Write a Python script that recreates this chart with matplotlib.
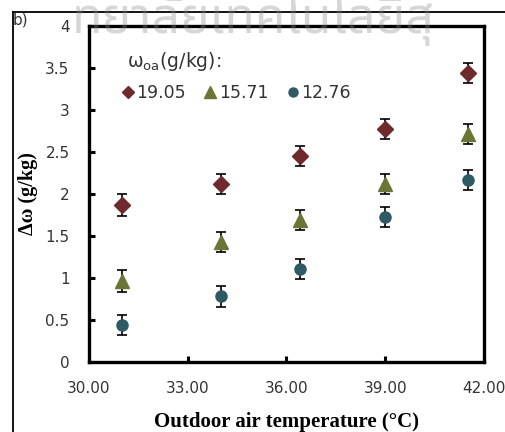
import matplotlib
matplotlib.use("Agg")
import matplotlib.pyplot as plt
from matplotlib.lines import Line2D

# Outdoor air temperature (°C) for each test point
temperature = [31.0, 34.0, 36.4, 39.0, 41.5]

# Moisture removal Δω (g/kg) for each outdoor humidity ratio
dw_1905 = [1.87, 2.12, 2.45, 2.77, 3.44]
dw_1571 = [0.96, 1.43, 1.69, 2.12, 2.71]
dw_1276 = [0.44, 0.78, 1.11, 1.73, 2.17]

# Error-bar half widths (g/kg)
err_1905 = [0.13, 0.12, 0.12, 0.12, 0.12]
err_1571 = [0.13, 0.12, 0.12, 0.12, 0.12]
err_1276 = [0.12, 0.12, 0.12, 0.12, 0.12]

series_labels = ["19.05", "15.71", "12.76"]
x_ticks = [30, 33, 36, 39, 42]
x_ticklabels = ["30.00", "33.00", "36.00", "39.00", "42.00"]
y_ticks = [0, 0.5, 1, 1.5, 2, 2.5, 3, 3.5, 4]
y_ticklabels = ["0", "0.5", "1", "1.5", "2", "2.5", "3", "3.5", "4"]

colors = ["#6E2A2C", "#6B7535", "#2E5A64"]
markers = ["D", "^", "o"]
sizes = [8, 9.5, 8]

fig = plt.figure(figsize=(5.06, 4.32), dpi=100)
ax = fig.add_axes([89 / 506, 1 - 362 / 432, (484 - 89) / 506, (362 - 26) / 432])

for y, e, c, m, s in zip([dw_1905, dw_1571, dw_1276],
                         [err_1905, err_1571, err_1276],
                         colors, markers, sizes):
    ax.errorbar(temperature, y, yerr=e, fmt=m, color=c, ms=s, mec=c,
                ecolor="black", elinewidth=1.2, capsize=3.5, capthick=1.2,
                zorder=3)

ax.set_xlim(30, 42)
ax.set_ylim(0, 4)
ax.set_xticks(x_ticks)
ax.set_xticklabels(x_ticklabels)
ax.set_yticks(y_ticks)
ax.set_yticklabels(y_ticklabels)

for sp in ax.spines.values():
    sp.set_linewidth(2.4)
ax.tick_params(direction="in", length=4, width=2.2, labelsize=11,
               labelcolor="#333333")
ax.tick_params(axis="x", pad=14)
ax.tick_params(axis="y", pad=14)

ax.set_xlabel("Outdoor air temperature (°C)", family="Liberation Serif",
              fontweight="bold", fontsize=15, labelpad=11)
ax.set_ylabel("Δω (g/kg)", family="Liberation Serif", fontweight="bold",
              fontsize=14.5, labelpad=5)

# Legend: title line plus one row of entries
ax.text(0.097, 0.893, "ω$_{\\mathrm{oa}}$(g/kg):", transform=ax.transAxes,
        fontsize=13.5, color="#333333", ha="left", va="center")
handles = [Line2D([], [], linestyle="none", marker=m, color=c, ms=s - 1.5)
           for m, c, s in zip(markers, colors, sizes)]
leg = ax.legend(handles, series_labels, ncol=3, loc="center left",
                bbox_to_anchor=(0.085, 0.80), frameon=False,
                handlelength=0.6, handletextpad=0.2, columnspacing=1.1,
                fontsize=12.5, borderaxespad=0, borderpad=0)
for t in leg.get_texts():
    t.set_color("#333333")

# Panel label and surrounding frame
fig.text(20 / 506, 1 - 20 / 432, "b)", fontsize=11, color="#333333",
         va="center", ha="center")
fig.add_artist(Line2D([13 / 506, 13 / 506], [0, 1 - 12 / 432],
                      color="black", lw=1.3, transform=fig.transFigure))
fig.add_artist(Line2D([13 / 506, 1], [1 - 12 / 432, 1 - 12 / 432],
                      color="black", lw=1.3, transform=fig.transFigure))

# Watermark
fig.text(0.50, 1 - 33 / 432, "ทยาลัยเทคโนโลยีสุ", fontsize=36,
         fontweight="bold", color="#8a8a8a", alpha=0.35, ha="center",
         va="baseline", family=["Noto Sans Thai", "Noto Sans", "DejaVu Sans"],
         zorder=5)

fig.savefig("out.png", dpi=100)
